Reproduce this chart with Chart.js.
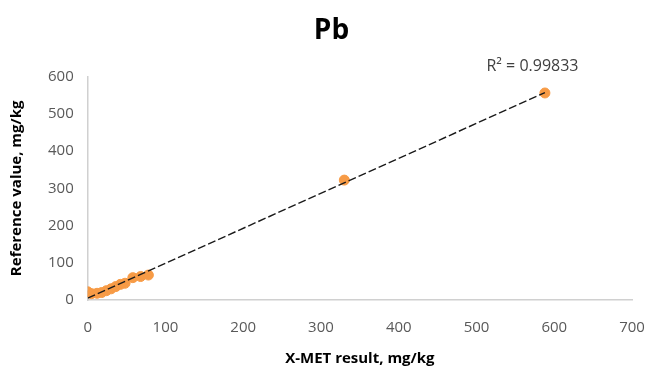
<!DOCTYPE html>
<html>
<head>
<meta charset="utf-8">
<script src="https://cdn.jsdelivr.net/npm/chart.js@4"></script>
<style>
  html, body { margin: 0; padding: 0; background: #fff; }
  #wrap { width: 655px; height: 374px; }
</style>
</head>
<body>
<div id="wrap"><canvas id="chart"></canvas></div>
<script>
// data
const xmetResult = [0, 5, 12, 18, 24, 30, 36, 42, 48, 58, 68, 78, 330, 588];
const referenceValue = [22, 17, 18, 20, 25, 30, 36, 42, 45, 60, 63, 67, 322, 556];
const xTicks = [0, 100, 200, 300, 400, 500, 600, 700];
const yTicks = [0, 100, 200, 300, 400, 500, 600];
const rSquaredLabel = 'R² = 0.99833';

const points = xmetResult.map((x, i) => ({ x: x, y: referenceValue[i] }));

// linear trendline (least squares)
let n = points.length, sx = 0, sy = 0, sxy = 0, sxx = 0;
points.forEach(p => { sx += p.x; sy += p.y; sxy += p.x * p.y; sxx += p.x * p.x; });
const slope = (n * sxy - sx * sy) / (n * sxx - sx * sx);
const intercept = (sy - slope * sx) / n;
const xMin = Math.min(...xmetResult), xMax = Math.max(...xmetResult);
const trend = [
  { x: xMin, y: slope * xMin + intercept },
  { x: xMax, y: slope * xMax + intercept }
];

const fontFam = "'Open Sans', 'Liberation Sans', sans-serif";

const rLabelPlugin = {
  id: 'rLabel',
  afterDraw(chart) {
    const ctx = chart.ctx;
    const xs = chart.scales.x;
    const area = chart.chartArea;
    ctx.save();
    ctx.font = '16px ' + fontFam;
    ctx.fillStyle = '#404040';
    ctx.textAlign = 'center';
    ctx.textBaseline = 'middle';
    ctx.fillText(rSquaredLabel, xs.getPixelForValue(572), area.top - 10);
    ctx.restore();
  }
};

new Chart(document.getElementById('chart'), {
  type: 'scatter',
  data: {
    datasets: [
      {
        label: 'Pb',
        data: points,
        backgroundColor: '#F79B46',
        borderColor: '#F79B46',
        pointRadius: 5,
        pointHoverRadius: 5,
        order: 2
      },
      {
        type: 'line',
        label: 'Linear',
        data: trend,
        borderColor: '#1a1a1a',
        borderWidth: 1.4,
        borderDash: [8, 3],
        pointRadius: 0,
        fill: false,
        order: 1
      }
    ]
  },
  options: {
    responsive: true,
    maintainAspectRatio: false,
    animation: false,
    layout: { padding: { left: 8, right: 0, top: 0, bottom: 0 } },
    plugins: {
      legend: { display: false },
      tooltip: { enabled: false },
      title: {
        display: true,
        text: 'Pb',
        color: '#000',
        font: { family: fontFam, size: 28, weight: 'bold' },
        padding: { top: 14, bottom: 29 }
      }
    },
    scales: {
      x: {
        type: 'linear',
        min: 0,
        max: 700,
        afterBuildTicks: axis => { axis.ticks = xTicks.map(v => ({ value: v })); },
        afterFit: axis => { axis.height = 74; axis.paddingRight = 23; },
        grid: { display: false, drawTicks: false },
        border: { color: '#d0d0d0', width: 1.5 },
        ticks: { color: '#595959', font: { family: fontFam, size: 15 }, padding: 19 },
        title: {
          display: true,
          text: 'X-MET result, mg/kg',
          color: '#000',
          font: { family: fontFam, size: 15, weight: 'bold' },
          padding: { top: 0, bottom: 6 }
        }
      },
      y: {
        type: 'linear',
        min: 0,
        max: 600,
        afterBuildTicks: axis => { axis.ticks = yTicks.map(v => ({ value: v })); },
        grid: { display: false, drawTicks: false },
        border: { color: '#d0d0d0', width: 1.5 },
        ticks: { color: '#595959', font: { family: fontFam, size: 15 }, padding: 14 },
        title: {
          display: true,
          text: 'Reference value, mg/kg',
          color: '#000',
          font: { family: fontFam, size: 15, weight: 'bold' },
          padding: { top: 0, bottom: 8 }
        }
      }
    }
  },
  plugins: [rLabelPlugin]
});
</script>
</body>
</html>
